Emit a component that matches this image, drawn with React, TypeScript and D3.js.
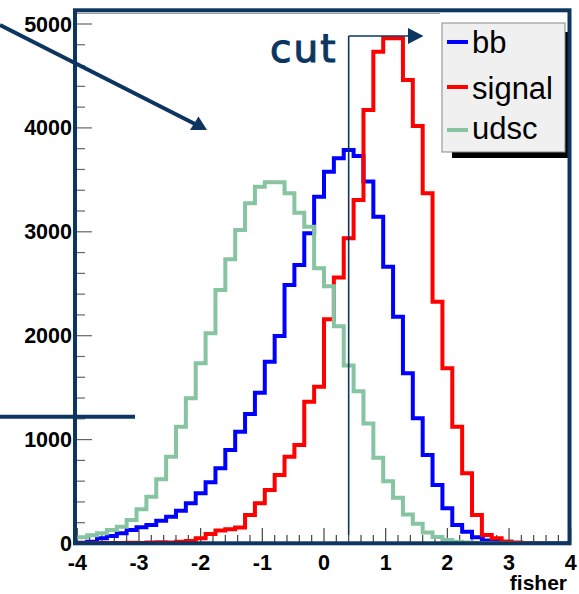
import React from 'react';
import * as d3 from 'd3';

const width = 579;
const height = 594;

// 50 bins from -4 to 4
const binLo = -4;
const binHi = 4;
const nBins = 50;

const udsc = [60, 80, 98, 130, 162, 226, 329, 451, 618, 835, 1124, 1397, 1734, 2023, 2440, 2735, 3017, 3274, 3434, 3477,
  3477, 3371, 3184, 3049, 2649, 2475, 2090, 1713, 1466, 1155, 825, 600, 440, 279, 189, 105, 62, 33, 18, 10,
  6, 4, 3, 2, 1, 1, 0, 0, 0, 0];
const bb = [8, 18, 50, 72, 98, 130, 156, 178, 220, 258, 316, 387, 483, 589, 724, 900, 1076, 1246, 1451, 1750,
  1997, 2488, 2681, 2985, 3338, 3579, 3707, 3787, 3730, 3483, 3146, 2664, 2183, 1638, 1205, 852, 563, 339, 178, 114,
  60, 30, 15, 8, 4, 2, 1, 0, 0, 0];
const signal = [3, 2, 4, 5, 6, 8, 5, 10, 12, 10, 18, 25, 50, 92, 124, 138, 155, 274, 387, 515,
  659, 835, 948, 1365, 1509, 2158, 2560, 2937, 3306, 4172, 4734, 4862, 4862, 4461, 4018, 3371, 2327, 1686, 1124, 675,
  274, 82, 50, 20, 10, 5, 2, 1, 0, 0];

const series = [
  { name: 'bb', values: bb, color: '#0000ff' },
  { name: 'signal', values: signal, color: '#ff0000' },
  { name: 'udsc', values: udsc, color: '#86c4a2' },
];
const drawOrder = ['bb', 'signal', 'udsc'];

const xTicks = [-4, -3, -2, -1, 0, 1, 2, 3, 4];
const yTicks = [0, 1000, 2000, 3000, 4000, 5000];
const cutValue = 0.4;
const xTitle = 'fisher';

const navy = '#0c365f';

const x = d3.scaleLinear().domain([binLo, binHi]).range([77.3, 570.7]);
const y = d3.scaleLinear().domain([0, 5000]).range([543.5, 24]);

const binW = (binHi - binLo) / nBins;

const stepLine = d3.line<[number, number]>()
  .x(d => x(d[0]))
  .y(d => y(d[1]))
  .curve(d3.curveStepAfter);

function histPath(vals: number[]) {
  const pts: [number, number][] = vals.map((v, i) => [binLo + i * binW, v]);
  pts.push([binHi, vals[vals.length - 1]]);
  return stepLine(pts) || '';
}

const minorX = d3.range(binLo, binHi + 0.001, 0.2);
const minorY = d3.range(0, 5001, 200);

const App = () => {
  const font = 'Liberation Sans, Arial, Helvetica, sans-serif';
  const cutX = x(cutValue);
  return (
    <svg width={width} height={height} style={{ position: 'absolute', left: 0, top: 0, background: '#fff' }}>
      <defs>
        <clipPath id="plotclip">
          <rect x={77} y={12} width={492} height={532} />
        </clipPath>
      </defs>
      {/* ROOT frame top line */}
      <line x1={77} x2={440} y1={13.5} y2={13.5} stroke="#999" strokeWidth={1.2} />

      {/* ticks */}
      {minorY.map(v => (
        <line key={'my' + v} x1={77} x2={v % 1000 === 0 ? 92 : 85} y1={y(v)} y2={y(v)} stroke="#666" strokeWidth={1.2} />
      ))}
      {minorX.map(v => (
        <line key={'mx' + v} y1={543} y2={Math.abs(v - Math.round(v)) < 1e-6 ? 528 : 535} x1={x(v)} x2={x(v)} stroke="#444" strokeWidth={1.2} />
      ))}

      {/* histograms */}
      <g clipPath="url(#plotclip)">
        {drawOrder.map(n => {
          const s = series.find(d => d.name === n)!;
          return <path key={n} d={histPath(s.values)} fill="none" stroke={s.color} strokeWidth={4} strokeLinejoin="miter" />;
        })}
      </g>

      {/* cut line + arrow */}
      <line x1={cutX} x2={cutX} y1={36} y2={535} stroke={navy} strokeWidth={1.6} />
      <line x1={cutX} x2={412} y1={36} y2={36} stroke={navy} strokeWidth={1.6} />
      <polygon points="408,28 423.5,36 408,44" fill={navy} />
      <text x={270} y={62} fontFamily="DejaVu Sans, sans-serif" fontSize={39} fill={navy} stroke={navy} strokeWidth={1.1} letterSpacing={2}>cut</text>

      {/* legend */}
      <rect x={452} y={32} width={116} height={126} fill="#000" />
      <rect x={442} y={23} width={123} height={129} fill="#f0f0f0" stroke="#888" strokeWidth={1} />
      {series.map((s, i) => {
        const ly = [42, 87, 130][i];
        const by = [53, 99, 139][i];
        return (
          <g key={s.name}>
            <line x1={447} x2={468} y1={ly} y2={ly} stroke={s.color} strokeWidth={4} />
            <text x={472} y={by} fontFamily={font} fontSize={31} fill="#000">{s.name}</text>
          </g>
        );
      })}

      {/* frame */}
      <rect x={75} y={10.3} width={494.5} height={533} fill="none" stroke={navy} strokeWidth={4} />

      {/* tick labels */}
      {yTicks.map(v => (
        <text key={'yl' + v} x={72} y={y(v) + 7.5} textAnchor="end" fontFamily={font} fontWeight="bold" fontSize={21.5} fill="#000">{v}</text>
      ))}
      {xTicks.map(v => (
        <text key={'xl' + v} x={x(v)} y={570} textAnchor="middle" fontFamily={font} fontWeight="bold" fontSize={21.5} fill="#000">{v < 0 ? '-' + Math.abs(v) : String(v)}</text>
      ))}
      <text x={567} y={590} textAnchor="end" fontFamily={font} fontWeight="bold" fontSize={21} fill="#000">{xTitle}</text>

      {/* annotation arrow and bar */}
      <line x1={0} y1={25} x2={196} y2={124.5} stroke={navy} strokeWidth={4} />
      <polygon points="190,130 207,130 198.5,116.5" fill={navy} />
      <line x1={0} x2={135} y1={416.7} y2={416.7} stroke={navy} strokeWidth={4} />
    </svg>
  );
};

export default App;
